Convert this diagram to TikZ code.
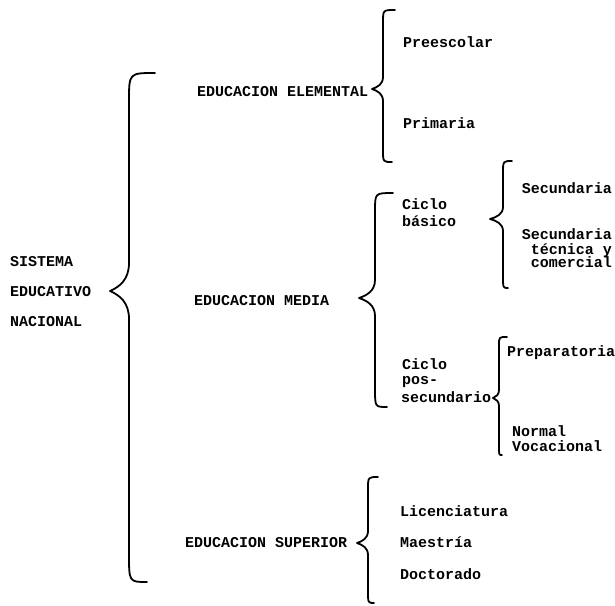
\documentclass[tikz,border=0pt]{standalone}
\usepackage{fontspec}
\setmonofont{Liberation Mono}
\newcommand\lblfont{\ttfamily\bfseries\fontsize{15}{12}\selectfont}
% #1 top end x, #2 spine x, #3 tip x, #4 top y, #5 tip y, #6 bottom y, #7 radius, #8 bottom end x
\newcommand\mybrace[8]{%
  \draw[bracestyle] (#1,#4) .. controls (#2,#4) .. (#2,{#4+#7})
    -- (#2,{#5-#7}) .. controls (#2,{#5-0.4*#7}) and ({(#2+#3)/2},{#5-0.15*#7}) .. (#3,#5)
    .. controls ({(#2+#3)/2},{#5+0.15*#7}) and (#2,{#5+0.4*#7}) .. (#2,{#5+#7})
    -- (#2,{#6-#7}) .. controls (#2,#6) .. (#8,#6);}
\tikzset{
  bracestyle/.style={line width=1.8pt, line cap=round, line join=round},
  lbl/.style={anchor=base west, inner sep=0pt, font=\lblfont},
  lblr/.style={anchor=base east, inner sep=0pt, font=\lblfont}
}
\begin{document}
\begin{tikzpicture}[x=1pt,y=-1pt]
\useasboundingbox (0,0) rectangle (615,605);
% root
\node[lbl] (s1) at (10,266.5) {SISTEMA};
\node[lbl] (s2) at (10,296.5) {EDUCATIVO};
\node[lbl] (s3) at (10,326.5) {NACIONAL};
\mybrace{155}{129}{110}{73}{291}{582}{28}{147}
% elemental
\node[lbl] (ee) at (197,96.5) {EDUCACION ELEMENTAL};
\mybrace{395}{383}{372}{10}{89}{162}{12}{392}
\node[lbl] (pre) at (403,47.5) {Preescolar};
\node[lbl] (pri) at (403,128.5) {Primaria};
% media
\node[lbl] (em) at (194,305.5) {EDUCACION MEDIA};
\mybrace{393}{375}{359}{193}{298}{407}{18}{387}
\node[lbl] (cb1) at (402,209.5) {Ciclo};
\node[lbl] (cb2) at (402,226.5) {básico};
\mybrace{512}{503}{490}{161}{219}{288}{12}{508}
\node[lblr] (sec) at (612,193.5) {Secundaria};
\node[lblr] (st1) at (612,239.5) {Secundaria};
\node[lblr] (st2) at (612,254) {técnica y};
\node[lblr] (st3) at (612,267.5) {comercial};
\node[lbl] (cp1) at (402,369.5) {Ciclo};
\node[lbl] (cp2) at (402,384.5) {pos-};
\node[lbl] (cp3) at (401,402.5) {secundario};
\mybrace{507}{499}{493}{337}{398}{455}{8}{502}
\node[lbl] (prep) at (507,356.5) {Preparatoria};
\node[lbl] (nv1) at (512,436.5) {Normal};
\node[lbl] (nv2) at (512,451.5) {Vocacional};
% superior
\node[lbl] (es) at (185,547.5) {EDUCACION SUPERIOR};
\mybrace{378}{368}{357}{477}{543}{603}{12}{374}
\node[lbl] (lic) at (400,516.5) {Licenciatura};
\node[lbl] (mae) at (400,547.5) {Maestría};
\node[lbl] (doc) at (400,579.5) {Doctorado};
\end{tikzpicture}
\end{document}
